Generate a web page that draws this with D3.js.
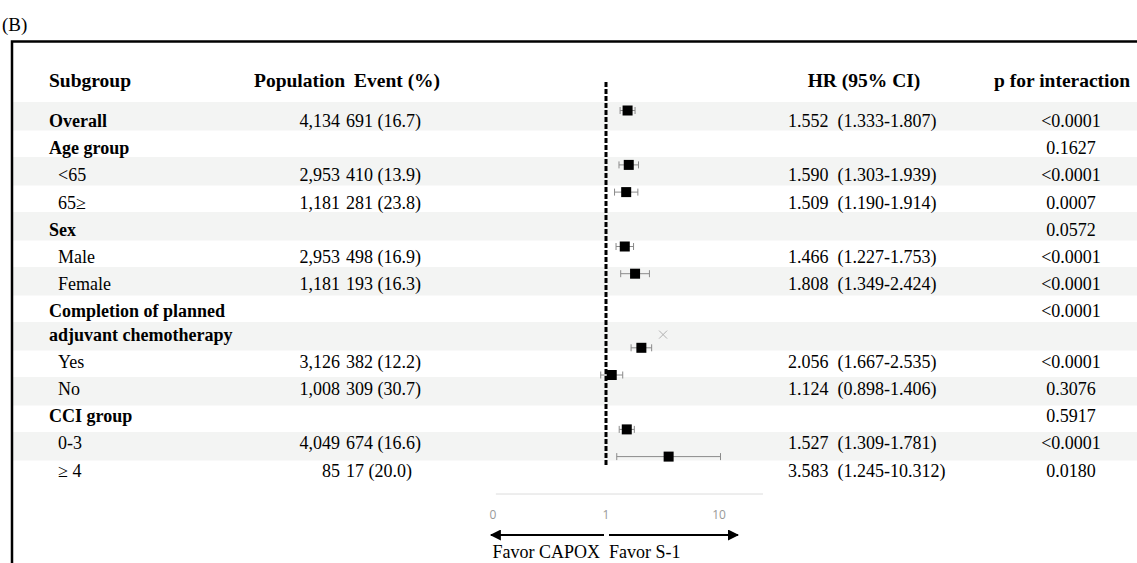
<!DOCTYPE html>
<html>
<head>
<meta charset="utf-8">
<script src="https://cdn.jsdelivr.net/npm/d3@7"></script>
<style>
  body { margin: 0; background: #fff; }
  text { font-family: "Liberation Serif", "Times New Roman", serif; }
</style>
</head>
<body>
<script>
// rows of the table, top to bottom
let labels = ["Overall", "Age group", "<65", "65\u2265", "Sex", "Male", "Female",
  "Completion of planned", "adjuvant chemotherapy", "Yes", "No", "CCI group", "0-3", "\u2265 4"];
let isGroup = [true, true, false, false, true, false, false, true, true, false, false, true, false, false];
let population = ["4,134", "", "2,953", "1,181", "", "2,953", "1,181", "", "", "3,126", "1,008", "", "4,049", "85"];
let events = ["691 (16.7)", "", "410 (13.9)", "281 (23.8)", "", "498 (16.9)", "193 (16.3)", "", "",
  "382 (12.2)", "309 (30.7)", "", "674 (16.6)", "17 (20.0)"];
let hr = [1.552, null, 1.590, 1.509, null, 1.466, 1.808, null, null, 2.056, 1.124, null, 1.527, 3.583];
let hrLow = [1.333, null, 1.303, 1.190, null, 1.227, 1.349, null, null, 1.667, 0.898, null, 1.309, 1.245];
let hrHigh = [1.807, null, 1.939, 1.914, null, 1.753, 2.424, null, null, 2.535, 1.406, null, 1.781, 10.312];
let pInteraction = ["<0.0001", "0.1627", "<0.0001", "0.0007", "0.0572", "<0.0001", "<0.0001", "<0.0001", "",
  "<0.0001", "0.3076", "0.5917", "<0.0001", "0.0180"];
let tickValues = [0.1, 1, 10];
let tickLabels = ["0", "1", "10"];
let strayMark = {row: 8, value: 3.2}; // the grey x left in the original figure

let width = 1137, height = 563;

let svg = d3.select("body").append("svg").attr("width", width).attr("height", height);

let x = d3.scaleLog().domain([0.1, 10]).range([493, 719]);
let f3 = d3.format(".3f");

// text line centres (two line label is set a bit tighter)
function rowY(i) {
  return 121 + 27.2 * i - (i >= 8 ? 4 : 0);
}
function markY(i) {
  return rowY(i) - (i > 7 ? 14 : 10.5);
}

// shaded bands
let band = d3.scaleLinear().domain([0, 1]).range([102, 157]);
svg.selectAll(".band").data(d3.range(7)).enter().append("rect")
  .attr("class", "band")
  .attr("x", 13).attr("width", width - 13)
  .attr("y", d => band(d)).attr("height", 28.5)
  .attr("fill", "#f3f4f3");

// frame
svg.append("text").attr("x", 2).attr("y", 31).attr("font-size", 19).text("(B)");
svg.append("path").attr("d", "M12,563V41.5H" + width)
  .attr("fill", "none").attr("stroke", "#000").attr("stroke-width", 2.5);

// headers
let head = svg.append("g").attr("font-weight", "bold").attr("font-size", 19.5);
head.append("text").attr("x", 49).attr("y", 87).text("Subgroup");
head.append("text").attr("x", 345).attr("y", 87).attr("text-anchor", "end").text("Population");
head.append("text").attr("x", 354).attr("y", 87).text("Event (%)");
head.append("text").attr("x", 864).attr("y", 87).attr("text-anchor", "middle").text("HR (95% CI)");
head.append("text").attr("x", 994).attr("y", 87).text("p for interaction");

// table text
let rows = svg.selectAll(".row").data(labels).enter().append("g")
  .attr("class", "row")
  .attr("transform", (d, i) => "translate(0," + (rowY(i) + 6) + ")")
  .attr("font-size", 18);

rows.append("text")
  .attr("x", (d, i) => isGroup[i] ? 49 : 58)
  .attr("font-weight", (d, i) => isGroup[i] ? "bold" : "normal")
  .text(d => d);
rows.append("text").attr("x", 340).attr("text-anchor", "end").text((d, i) => population[i]);
rows.append("text").attr("x", 346).text((d, i) => events[i]);
rows.append("text").attr("x", 788).style("white-space", "pre")
  .text((d, i) => hr[i] == null ? "" : f3(hr[i]) + "  (" + f3(hrLow[i]) + "-" + f3(hrHigh[i]) + ")");
rows.append("text").attr("x", 1071).attr("text-anchor", "middle").text((d, i) => pInteraction[i]);

// reference line at HR = 1
svg.append("line")
  .attr("x1", x(1)).attr("x2", x(1)).attr("y1", 82).attr("y2", 467)
  .attr("stroke", "#000").attr("stroke-width", 3).attr("stroke-dasharray", "5,2");

// confidence intervals and squares
let est = d3.range(labels.length).filter(i => hr[i] != null);
let ci = svg.selectAll(".ci").data(est).enter().append("g").attr("class", "ci")
  .attr("stroke", "#8a8a8a").attr("stroke-width", 1);
ci.append("line").attr("x1", i => x(hrLow[i])).attr("x2", i => x(hrHigh[i]))
  .attr("y1", i => markY(i)).attr("y2", i => markY(i));
ci.append("line").attr("x1", i => x(hrLow[i])).attr("x2", i => x(hrLow[i]))
  .attr("y1", i => markY(i) - 3.5).attr("y2", i => markY(i) + 3.5);
ci.append("line").attr("x1", i => x(hrHigh[i])).attr("x2", i => x(hrHigh[i]))
  .attr("y1", i => markY(i) - 3.5).attr("y2", i => markY(i) + 3.5);
svg.selectAll(".pt").data(est).enter().append("rect").attr("class", "pt")
  .attr("x", i => x(hr[i]) - 5).attr("y", i => markY(i) - 5)
  .attr("width", 10).attr("height", 10).attr("fill", "#000");

// stray grey cross
let sx = x(strayMark.value), sy = rowY(strayMark.row);
svg.append("path")
  .attr("d", "M" + (sx - 4) + "," + (sy - 4) + "L" + (sx + 4) + "," + (sy + 4) +
    "M" + (sx - 4) + "," + (sy + 4) + "L" + (sx + 4) + "," + (sy - 4))
  .attr("stroke", "#b0b0b0").attr("stroke-width", 1);

// x axis
let axisY = 494;
svg.append("line").attr("x1", x(0.106)).attr("x2", x(24.5)).attr("y1", axisY).attr("y2", axisY)
  .attr("stroke", "#dcdcdc").attr("stroke-width", 1);
svg.selectAll(".tick").data(tickValues).enter().append("text").attr("class", "tick")
  .attr("x", d => x(d)).attr("y", axisY + 25).attr("text-anchor", "middle")
  .style("font-family", "'Open Sans', sans-serif").attr("font-size", 12).attr("fill", "#999")
  .text((d, i) => tickLabels[i]);

// direction arrows
let defs = svg.append("defs");
defs.append("marker").attr("id", "head").attr("viewBox", "0 0 10 10")
  .attr("refX", 9).attr("refY", 5).attr("markerWidth", 6.5).attr("markerHeight", 5.5)
  .attr("orient", "auto-start-reverse")
  .append("path").attr("d", "M0,0L10,5L0,10z").attr("fill", "#000");
let arrowY = 535;
svg.append("line").attr("x1", x(1) - 2).attr("x2", x(0.096)).attr("y1", arrowY).attr("y2", arrowY)
  .attr("stroke", "#000").attr("stroke-width", 2).attr("marker-end", "url(#head)");
svg.append("line").attr("x1", x(1) + 3).attr("x2", x(14.7)).attr("y1", arrowY).attr("y2", arrowY)
  .attr("stroke", "#000").attr("stroke-width", 2).attr("marker-end", "url(#head)");
svg.append("text").attr("x", x(1) - 6).attr("y", 558).attr("text-anchor", "end")
  .attr("font-size", 18).text("Favor CAPOX");
svg.append("text").attr("x", x(1) + 3).attr("y", 558)
  .attr("font-size", 18).text("Favor S-1");
</script>
</body>
</html>
